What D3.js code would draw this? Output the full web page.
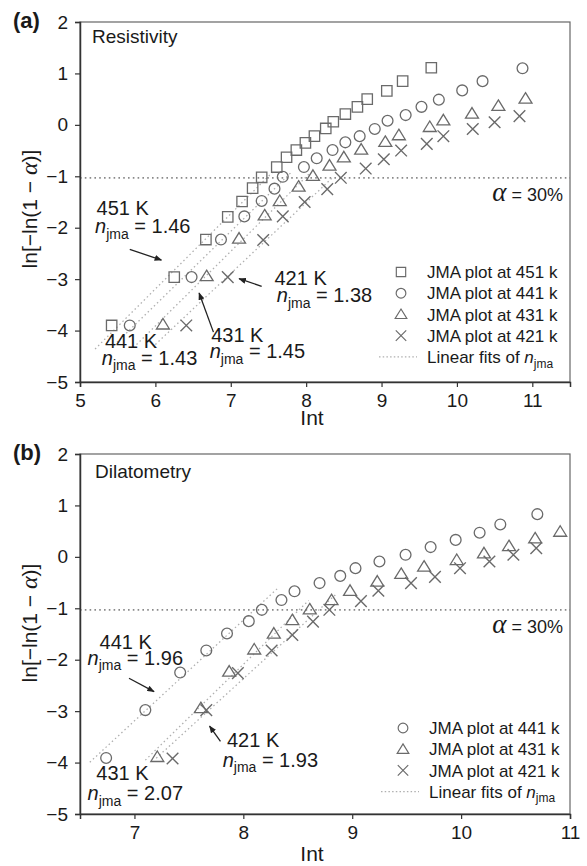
<!DOCTYPE html>
<html>
<head>
<meta charset="utf-8">
<script src="https://cdn.jsdelivr.net/npm/d3@7"></script>
<style>
  body { margin: 0; background: #fff; }
  text { font-family: "Liberation Sans", Arial, Helvetica, sans-serif; fill: #1a1a1a; }
</style>
</head>
<body>
<svg id="fig" width="587" height="866"></svg>
<script>
// ---- data: [Int, ln(-ln(1-alpha))] ----
// (a) resistivity
var res451 = [[5.42,-3.90],[6.25,-2.96],[6.67,-2.23],[6.96,-1.79],[7.15,-1.49],[7.29,-1.23],[7.41,-1.02],[7.61,-0.82],[7.74,-0.63],[7.87,-0.49],[7.99,-0.35],[8.11,-0.22],[8.26,-0.07],[8.36,0.06],[8.52,0.21],[8.68,0.35],[8.81,0.50],[9.07,0.66],[9.28,0.85],[9.66,1.11]];
var res441 = [[5.66,-3.90],[6.48,-2.96],[6.87,-2.23],[7.18,-1.78],[7.41,-1.48],[7.58,-1.24],[7.69,-1.01],[7.97,-0.82],[8.14,-0.65],[8.35,-0.49],[8.52,-0.34],[8.71,-0.22],[8.91,-0.08],[9.08,0.08],[9.32,0.19],[9.53,0.35],[9.76,0.49],[10.07,0.67],[10.34,0.85],[10.87,1.10]];
var res431 = [[6.10,-3.88],[6.68,-2.94],[7.11,-2.21],[7.45,-1.76],[7.65,-1.48],[7.90,-1.20],[8.09,-0.99],[8.31,-0.79],[8.50,-0.63],[8.73,-0.48],[9.05,-0.33],[9.23,-0.20],[9.64,-0.04],[9.82,0.09],[10.20,0.22],[10.55,0.37],[10.91,0.51]];
var res421 = [[6.41,-3.90],[6.96,-2.96],[7.43,-2.24],[7.69,-1.78],[7.98,-1.50],[8.28,-1.25],[8.46,-1.03],[8.79,-0.85],[9.03,-0.67],[9.26,-0.50],[9.60,-0.37],[9.82,-0.22],[10.21,-0.08],[10.50,0.05],[10.83,0.17]];
// (b) dilatometry
var dil441 = [[6.74,-3.91],[7.10,-2.98],[7.42,-2.25],[7.66,-1.82],[7.85,-1.49],[8.05,-1.25],[8.17,-1.03],[8.35,-0.84],[8.47,-0.67],[8.70,-0.51],[8.89,-0.37],[9.03,-0.22],[9.25,-0.09],[9.49,0.04],[9.72,0.19],[9.95,0.33],[10.17,0.47],[10.36,0.63],[10.70,0.83]];
var dil431 = [[7.21,-3.89],[7.61,-2.94],[7.87,-2.23],[8.10,-1.80],[8.28,-1.49],[8.45,-1.23],[8.61,-1.02],[8.81,-0.84],[8.98,-0.66],[9.23,-0.48],[9.45,-0.33],[9.66,-0.19],[9.96,-0.06],[10.21,0.07],[10.44,0.21],[10.68,0.36],[10.91,0.49]];
var dil421 = [[7.35,-3.92],[7.66,-2.98],[7.95,-2.26],[8.26,-1.82],[8.45,-1.52],[8.64,-1.26],[8.79,-1.03],[9.08,-0.86],[9.24,-0.66],[9.54,-0.51],[9.76,-0.39],[9.99,-0.22],[10.26,-0.09],[10.48,0.04],[10.69,0.17]];

// linear fits: slope n_jma, intercept c, x range
var resFits = [{n:1.46, c:-11.95, x:[5.2,7.55]}, {n:1.43, c:-12.08, x:[5.45,7.8]}, {n:1.45, c:-12.61, x:[5.75,8.05]}, {n:1.38, c:-12.55, x:[6.0,8.35]}];
var dilFits = [{n:1.96, c:-16.91, x:[6.59,8.32]}, {n:2.07, c:-18.65, x:[7.1,8.6]}, {n:1.93, c:-17.81, x:[7.2,8.85]}];

var alpha30 = Math.log(-Math.log(1 - 0.30)); // horizontal reference line

var resTicksX = [5,6,7,8,9,10,11];
var dilTicksX = [7,8,9,10,11];
var ticksY = [-5,-4,-3,-2,-1,0,1,2];

var svg = d3.select("#fig");

svg.append("defs").append("marker")
    .attr("id", "arrow")
    .attr("viewBox", "0 0 10 8")
    .attr("refX", 9).attr("refY", 4)
    .attr("markerWidth", 8).attr("markerHeight", 6)
    .attr("markerUnits", "userSpaceOnUse")
    .attr("orient", "auto")
    .append("path").attr("d", "M0,0 L10,4 L0,8 Z").attr("fill", "#222");

// custom symbol types so size = half width
var shapes = {
  square:   {draw: function(p, r) { p.rect(-r, -r, 2 * r, 2 * r); }},
  circle:   {draw: function(p, r) { p.moveTo(r, 0); p.arc(0, 0, r, 0, 2 * Math.PI); }},
  triangle: {draw: function(p, r) { p.moveTo(0, -r * 1.1); p.lineTo(r * 1.2, r * 0.85); p.lineTo(-r * 1.2, r * 0.85); p.closePath(); }},
  cross:    {draw: function(p, r) { p.moveTo(-r, -r); p.lineTo(r, r); p.moveTo(r, -r); p.lineTo(-r, r); }}
};
var shapeR = {square: 5.2, circle: 5.4, triangle: 5.4, cross: 5.8};
var markColor = "#6a6a6a";

function symbolPath(shape) {
  return d3.symbol().type(shapes[shape]).size(shapeR[shape])();
}

// "n_jma = v" text
function nText(g, x, y, value, size) {
  var t = g.append("text").attr("x", x).attr("y", y).style("font-size", size + "px");
  t.append("tspan").style("font-style", "italic").text("n");
  t.append("tspan").style("font-size", Math.round(size * 0.68) + "px").attr("dy", size * 0.27).text("jma");
  t.append("tspan").attr("dy", -size * 0.27).text(value);
  return t;
}

function drawPanel(cfg) {
  var x = cfg.x, y = cfg.y;
  var g = svg.append("g");

  // alpha = 30% line
  g.append("line")
      .attr("x1", x.range()[0]).attr("x2", x.range()[1])
      .attr("y1", y(alpha30)).attr("y2", y(alpha30))
      .attr("stroke", "#8a8a8a").attr("stroke-width", 1.6)
      .attr("stroke-dasharray", "1.6,3.2");

  // linear fits
  g.selectAll(".fit").data(cfg.fits).enter().append("line")
      .attr("class", "fit")
      .attr("x1", function(d) { return x(d.x[0]); })
      .attr("x2", function(d) { return x(d.x[1]); })
      .attr("y1", function(d) { return y(d.n * d.x[0] + d.c); })
      .attr("y2", function(d) { return y(d.n * d.x[1] + d.c); })
      .attr("stroke", "#b0b0b0").attr("stroke-width", 1.3)
      .attr("stroke-dasharray", "1.5,2.8");

  // markers
  cfg.series.forEach(function(s) {
    g.selectAll(null).data(s.data).enter().append("path")
        .attr("d", symbolPath(s.shape))
        .attr("transform", function(d) { return "translate(" + x(d[0]) + "," + y(d[1]) + ")"; })
        .attr("fill", "none").attr("stroke", markColor)
        .attr("stroke-width", s.shape === "cross" ? 1.4 : 1.3);
  });

  // frame
  g.append("rect")
      .attr("x", x.range()[0]).attr("y", y.range()[1])
      .attr("width", x.range()[1] - x.range()[0]).attr("height", y.range()[0] - y.range()[1])
      .attr("fill", "none").attr("stroke", "#666").attr("stroke-width", 1.2);

  // axes
  var xMinor = d3.range(x.domain()[0], x.domain()[1] + 0.01, 0.5);
  var yMinor = d3.range(-5, 2.01, 0.5);
  var gx = g.append("g").attr("transform", "translate(0," + y.range()[0] + ")");
  gx.call(d3.axisBottom(x).tickValues(xMinor).tickSize(3).tickFormat(""));
  gx.call(d3.axisBottom(x).tickValues(cfg.xTicks).tickSize(5).tickPadding(7).tickFormat(d3.format("d")));
  var gy = g.append("g").attr("transform", "translate(" + x.range()[0] + ",0)");
  gy.call(d3.axisLeft(y).tickValues(yMinor).tickSize(3).tickFormat(""));
  gy.call(d3.axisLeft(y).tickValues(ticksY).tickSize(5).tickPadding(7).tickFormat(d3.format("d")));
  g.selectAll(".domain").attr("stroke", "#333").attr("stroke-width", 1.5);
  g.selectAll(".tick line").attr("stroke", "#333").attr("stroke-width", 1.2);
  g.selectAll(".tick text").style("font-size", "19px").style("font-family", "Liberation Sans, Arial, sans-serif").attr("fill", "#1a1a1a");

  // axis titles
  g.append("text")
      .attr("x", 312).attr("y", y.range()[0] + cfg.xTitleDy)
      .attr("text-anchor", "middle").style("font-size", "21px").text("Int");
  var yt = g.append("text")
      .attr("transform", "translate(37," + cfg.yTitleY + ") rotate(-90)")
      .attr("text-anchor", "middle").style("font-size", "21px");
  yt.append("tspan").text("ln[\u2212ln(1 \u2212 ");
  yt.append("tspan").style("font-family", "Liberation Serif, Times New Roman, serif")
      .style("font-style", "italic").style("font-size", "24px").text("\u03b1");
  yt.append("tspan").text(")]");

  // panel tag and name
  g.append("text").attr("x", 13).attr("y", y.range()[1] + 6)
      .style("font-size", "22px").style("font-weight", "bold").text(cfg.tag);
  g.append("text").attr("x", cfg.nameX).attr("y", y.range()[1] + cfg.nameDy)
      .style("font-size", "19px").text(cfg.name);

  // alpha label
  var at = g.append("text").attr("x", 563).attr("y", y(alpha30) + 23)
      .attr("text-anchor", "end").style("font-size", "18px");
  at.append("tspan").style("font-family", "Liberation Serif, Times New Roman, serif")
      .style("font-style", "italic").style("font-size", "27px").text("\u03b1");
  at.append("tspan").text(" = 30%");

  // annotations
  cfg.notes.forEach(function(a) {
    g.append("text").attr("x", x(a.t[0])).attr("y", y(a.t[1])).style("font-size", "20px").text(a.temp);
    nText(g, x(a.n[0]), y(a.n[1]), " = " + a.val, 20);
    if (a.arrow) {
      g.append("line")
          .attr("x1", x(a.arrow[0])).attr("y1", y(a.arrow[1]))
          .attr("x2", x(a.arrow[2])).attr("y2", y(a.arrow[3]))
          .attr("stroke", "#222").attr("stroke-width", 1.3)
          .attr("marker-end", "url(#arrow)");
    }
  });

  // legend
  var lg = g.append("g").attr("transform", "translate(" + cfg.legend[0] + "," + cfg.legend[1] + ")");
  cfg.series.forEach(function(s, i) {
    lg.append("path").attr("d", symbolPath(s.shape))
        .attr("transform", "translate(0," + i * 21.2 + ") scale(0.9)")
        .attr("fill", "none").attr("stroke", markColor).attr("stroke-width", 1.3);
    lg.append("text").attr("x", 26).attr("y", i * 21.2).attr("dy", "0.36em")
        .style("font-size", "17px").text(s.label);
  });
  var ly = cfg.series.length * 21.2;
  lg.append("line").attr("x1", -22).attr("x2", 16).attr("y1", ly).attr("y2", ly)
      .attr("stroke", "#b0b0b0").attr("stroke-width", 1.3).attr("stroke-dasharray", "1.5,2.2");
  var lt = nText(lg, 26, ly, "", 17);
  lt.attr("dy", "0.36em");
  lt.insert("tspan", "tspan").text("Linear fits of ");
}

drawPanel({
  x: d3.scaleLinear().domain([5, 11.5]).range([80, 570]),
  y: d3.scaleLinear().domain([-5, 2]).range([382, 22]),
  xTicks: resTicksX,
  tag: "(a)", name: "Resistivity", nameX: 92, nameDy: 21,
  xTitleDy: 43, yTitleY: 209,
  series: [
    {data: res451, shape: "square", label: "JMA plot at 451 k"},
    {data: res441, shape: "circle", label: "JMA plot at 441 k"},
    {data: res431, shape: "triangle", label: "JMA plot at 431 k"},
    {data: res421, shape: "cross", label: "JMA plot at 421 k"}
  ],
  fits: resFits,
  notes: [
    {temp: "451 K", t: [5.22, -1.76], n: [5.2, -2.11], val: "1.46", arrow: [5.66, -2.42, 6.08, -2.63]},
    {temp: "441 K", t: [5.33, -4.34], n: [5.29, -4.67], val: "1.43"},
    {temp: "431 K", t: [6.74, -4.23], n: [6.72, -4.54], val: "1.45", arrow: [6.77, -4.03, 6.58, -3.27]},
    {temp: "421 K", t: [7.58, -3.12], n: [7.61, -3.45], val: "1.38", arrow: [7.41, -3.14, 7.11, -2.99]}
  ],
  legend: [401, 272]
});

drawPanel({
  x: d3.scaleLinear().domain([6.5, 11]).range([80, 570]),
  y: d3.scaleLinear().domain([-5, 2]).range([814, 454]),
  xTicks: dilTicksX,
  tag: "(b)", name: "Dilatometry", nameX: 95, nameDy: 24,
  xTitleDy: 47, yTitleY: 623,
  series: [
    {data: dil441, shape: "circle", label: "JMA plot at 441 k"},
    {data: dil431, shape: "triangle", label: "JMA plot at 431 k"},
    {data: dil421, shape: "cross", label: "JMA plot at 421 k"}
  ],
  fits: dilFits,
  notes: [
    {temp: "441 K", t: [6.68, -1.79], n: [6.57, -2.10], val: "1.96", arrow: [6.95, -2.36, 7.18, -2.62]},
    {temp: "431 K", t: [6.65, -4.34], n: [6.57, -4.73], val: "2.07"},
    {temp: "421 K", t: [7.85, -3.70], n: [7.81, -4.08], val: "1.93", arrow: [7.79, -3.59, 7.69, -3.29]}
  ],
  legend: [403, 728]
});
</script>
</body>
</html>
